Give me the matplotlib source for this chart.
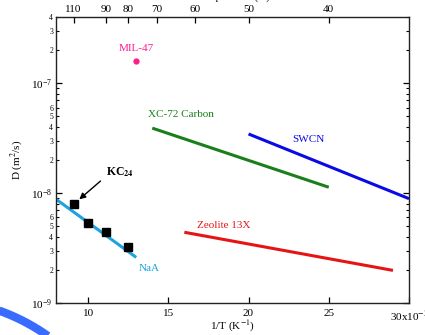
import numpy as np
import matplotlib
matplotlib.use("Agg")
import matplotlib.pyplot as plt
from matplotlib.ticker import FixedLocator, FuncFormatter, LogLocator
from matplotlib.lines import Line2D

plt.rcParams['font.family'] = ['Liberation Serif', 'DejaVu Serif']
plt.rcParams['mathtext.fontset'] = 'stix'

# Inverse temperature in units of 1e-3 K^-1, diffusivity in m^2/s
naa_x = [8.0, 13.0]
naa_D = [8.8e-9, 2.6e-9]

kc24_T = [110, 100, 90, 80]
kc24_D = [7.9e-9, 5.3e-9, 4.4e-9, 3.25e-9]

mil47_T = [77]
mil47_D = [1.6e-7]

xc72_x = [14.0, 25.0]
xc72_D = [3.9e-8, 1.13e-8]

swcn_x = [20.0, 30.0]
swcn_D = [3.45e-8, 8.9e-9]

zeolite_x = [16.0, 29.0]
zeolite_D = [4.4e-9, 1.98e-9]

bottom_ticks = [10, 15, 20, 25, 30]
bottom_labels = ['10', '15', '20', '25', r'30x10$^{-3}$']
top_T = [110, 90, 80, 70, 60, 50, 40]

W, H = 425, 335
fig = plt.figure(figsize=(W / 100, H / 100), dpi=100)
ax = fig.add_axes([56 / W, 1 - 303 / H, (409 - 56) / W, (303 - 17) / H])

c_naa = '#1ea3e0'
c_mil = '#ff1a8c'
c_xc = '#1a7f1a'
c_sw = '#0a0ae6'
c_ze = '#e61414'

ax.plot(naa_x, naa_D, color=c_naa, lw=2.2, solid_capstyle='butt')
ax.plot([1000 / t for t in kc24_T], kc24_D, ls='none', marker='s', ms=6,
        color='k')
ax.plot([1000 / t for t in mil47_T], mil47_D, ls='none', marker='o', ms=3.5,
        color=c_mil)
ax.plot(xc72_x, xc72_D, color=c_xc, lw=2.2, solid_capstyle='butt')
ax.plot(swcn_x, swcn_D, color=c_sw, lw=2.2, solid_capstyle='butt', clip_on=False)
ax.plot(zeolite_x, zeolite_D, color=c_ze, lw=2.2, solid_capstyle='butt')

fs = 8
ax.text(13.03, 2.08e-7, 'MIL-47', color=c_mil, fontsize=fs, ha='center', va='center')
ax.text(13.71, 5.23e-8, 'XC-72 Carbon', color=c_xc, fontsize=fs, ha='left', va='center')
ax.text(22.72, 3.1e-8, 'SWCN', color=c_sw, fontsize=fs, ha='left', va='center')
ax.text(16.8, 5.12e-9, 'Zeolite 13X', color=c_ze, fontsize=fs, ha='left', va='center')
ax.text(13.16, 2.08e-9, 'NaA', color=c_naa, fontsize=fs, ha='left', va='center')
ax.text(11.1, 1.55e-8, r'KC$_{\mathbf{24}}$', color='k', fontsize=fs + 0.5,
        fontweight='bold', ha='left', va='center')
ax.annotate('', xy=(9.45, 8.77e-9), xytext=(10.77, 1.286e-8),
            arrowprops=dict(arrowstyle='-|>', color='k', lw=1.0,
                            mutation_scale=9, shrinkA=0, shrinkB=0))

ax.set_xlim(8, 30)
ax.set_yscale('log')
ax.set_ylim(1e-9, 4e-7)

ax.xaxis.set_major_locator(FixedLocator(bottom_ticks))
ax.set_xticklabels(bottom_labels)
ax.yaxis.set_major_locator(LogLocator(base=10, numticks=10))
ax.yaxis.set_minor_locator(LogLocator(base=10, subs=np.arange(2, 10), numticks=20))


def minor_fmt(v, pos):
    m = v / 10 ** np.floor(np.log10(v) + 1e-9)
    m = int(round(m))
    return str(m) if m <= 6 else ''


ax.yaxis.set_minor_formatter(FuncFormatter(minor_fmt))

for s in ax.spines.values():
    s.set_linewidth(1.0)
    s.set_color('#222222')

ax.tick_params(axis='x', which='major', direction='in', length=4, width=0.9,
               labelsize=fs, pad=4)
ax.tick_params(axis='y', which='major', direction='in', length=4, width=0.9,
               labelsize=fs, right=True, pad=3)
ax.tick_params(axis='y', which='minor', direction='in', length=2.5, width=0.8,
               labelsize=5.5, right=True, pad=2)
ax.tick_params(axis='x', which='minor', bottom=False, top=False)

ax.set_xlabel(r'1/T (K$^{-1}$)', fontsize=fs)
ax.xaxis.set_label_coords(0.5, -0.056)
ax.set_ylabel(r'D (m$^2$/s)', fontsize=fs, labelpad=4)

# Temperature scale along the top
top = ax.twiny()
top.set_xlim(ax.get_xlim())
top.xaxis.set_major_locator(FixedLocator([1000 / t for t in top_T]))
top.set_xticklabels([str(t) for t in top_T])
top.tick_params(axis='x', which='major', direction='in', length=4, width=0.9,
                labelsize=fs, pad=2)
top.tick_params(axis='x', which='minor', top=False)
for s in top.spines.values():
    s.set_visible(False)
fig.text(0.547, 1 + 0.7 / H, 'Temperature (K)', fontsize=fs, ha='center', va='baseline')

# Blue ring segment in the lower left corner
cx, cy, r = -68, 499, 200
th = np.linspace(-80, -20, 200) * np.pi / 180
px = cx + r * np.cos(th)
py = cy + r * np.sin(th)
fig.add_artist(Line2D(px / W, 1 - py / H, transform=fig.transFigure,
                      color='#3a6bff', lw=6, solid_capstyle='butt'))

fig.savefig('out.png', dpi=100)
